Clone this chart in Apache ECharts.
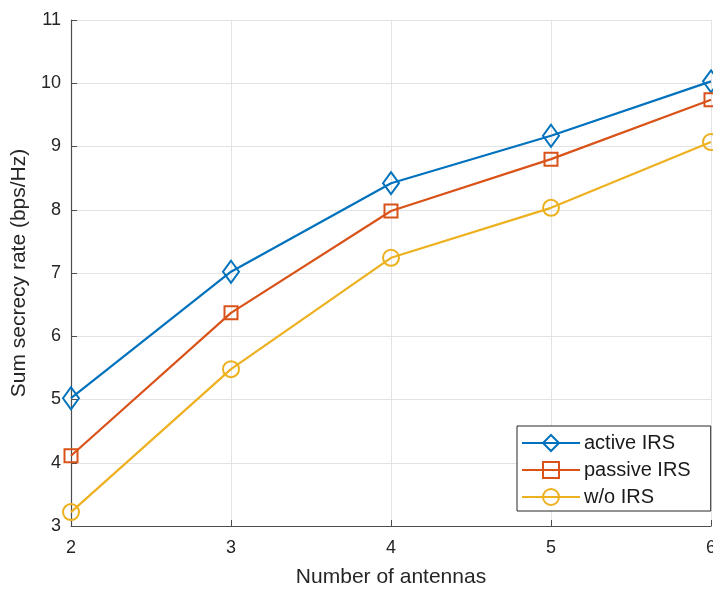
<!DOCTYPE html>
<html>
<head>
<meta charset="utf-8">
<script src="https://cdn.jsdelivr.net/npm/echarts@6/dist/echarts.min.js"></script>
<style>
  html, body { margin: 0; padding: 0; background: #ffffff; }
  #chart { width: 713px; height: 589px; }
</style>
</head>
<body>
<div id="chart"></div>
<script>
// Number of transmit antennas
const antennas = [2, 3, 4, 5, 6];
// Sum secrecy rate (bps/Hz) for each scheme
const activeIRS = [5.02, 7.02, 8.42, 9.17, 10.03];
const passiveIRS = [4.11, 6.37, 7.98, 8.80, 9.74];
const noIRS = [3.22, 5.48, 7.24, 8.03, 9.07];
const seriesNames = ['active IRS', 'passive IRS', 'w/o IRS'];
const yTicks = { min: 3, max: 11, step: 1 };
const xTicks = { min: 2, max: 6, step: 1 };

const pairs = vals => antennas.map((x, i) => [x, vals[i]]);

const font = 'Liberation Sans, Arial, sans-serif';
const axisColor = '#4d4d4d';
const textColor = '#262626';

const chart = echarts.init(document.getElementById('chart'), null, { renderer: 'canvas' });

// Hollow markers: transparent fill so the line shows through
function lineSeries(name, data, color, symbol, size) {
  return {
    name: name,
    type: 'line',
    data: data,
    symbol: symbol,
    symbolSize: size,
    showAllSymbol: true,
    clip: false,
    lineStyle: { color: color, width: 2.2 },
    itemStyle: { color: 'rgba(255,255,255,0)', borderColor: color, borderWidth: 2 },
    emphasis: { disabled: true },
    z: 3
  };
}

chart.setOption({
  animation: false,
  backgroundColor: '#ffffff',
  grid: { left: 71, right: 2, top: 20, bottom: 63, containLabel: false, outerBoundsMode: 'none' },
  xAxis: {
    type: 'value',
    min: xTicks.min, max: xTicks.max, interval: xTicks.step,
    name: 'Number of antennas',
    nameLocation: 'middle',
    nameGap: 41,
    nameTextStyle: { color: textColor, fontSize: 21, fontFamily: font },
    axisLine: { show: true, lineStyle: { color: axisColor, width: 1.2 } },
    axisTick: { show: true, inside: true, length: 6, lineStyle: { color: axisColor } },
    axisLabel: { color: textColor, fontSize: 18, fontFamily: font, margin: 13 },
    splitLine: { show: true, lineStyle: { color: '#e3e3e3', width: 1 } }
  },
  yAxis: {
    type: 'value',
    min: yTicks.min, max: yTicks.max, interval: yTicks.step,
    name: 'Sum secrecy rate (bps/Hz)',
    nameLocation: 'middle',
    nameGap: 40,
    nameTextStyle: { color: textColor, fontSize: 21, fontFamily: font },
    axisLine: { show: true, lineStyle: { color: axisColor, width: 1.2 } },
    axisTick: { show: true, inside: true, length: 6, lineStyle: { color: axisColor } },
    axisLabel: { color: textColor, fontSize: 18, fontFamily: font, margin: 10 },
    splitLine: { show: true, lineStyle: { color: '#e3e3e3', width: 1 } }
  },
  legend: {
    orient: 'vertical',
    left: 517,
    top: 426,
    backgroundColor: '#ffffff',
    borderColor: '#262626',
    borderWidth: 1,
    borderRadius: 0,
    padding: [7, 20, 4, 4],
    itemGap: 7,
    itemWidth: 58,
    itemHeight: 20,
    textStyle: { color: '#1a1a1a', fontSize: 20, fontFamily: font, padding: [0, 0, 0, -1] },
    data: seriesNames
  },
  series: [
    lineSeries(seriesNames[0], pairs(activeIRS), '#0072BD', 'diamond', [16, 22]),
    lineSeries(seriesNames[1], pairs(passiveIRS), '#D95319', 'rect', 13),
    lineSeries(seriesNames[2], pairs(noIRS), '#EDB120', 'circle', 16)
  ]
});
</script>
</body>
</html>
